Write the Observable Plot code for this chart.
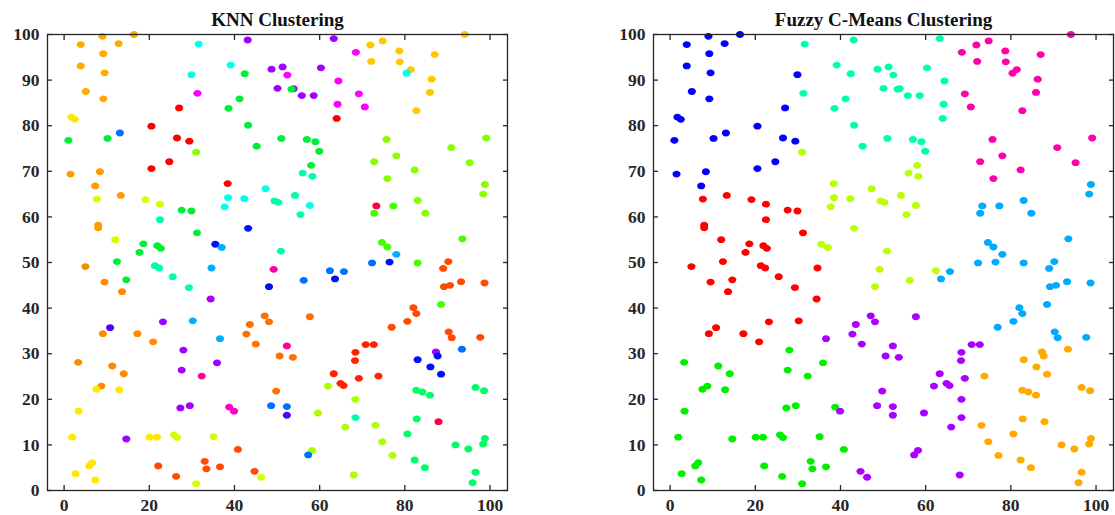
<!DOCTYPE html>
<html>
<head>
<meta charset="utf-8">
<script src="https://cdn.jsdelivr.net/npm/d3@7"></script>
<script src="https://cdn.jsdelivr.net/npm/@observablehq/plot@0.6"></script>
<style>
  html, body { margin: 0; padding: 0; background: #fff; }
  #wrap { position: relative; width: 1115px; height: 515px; overflow: hidden; }
  #wrap svg { position: absolute; top: 0; }
</style>
</head>
<body>
<div id="wrap"></div>
<script>
// ---- data ----
const titles = ["KNN Clustering", "Fuzzy C-Means Clustering"];
const xTicks = [0, 20, 40, 60, 80, 100];
const yTicks = [0, 10, 20, 30, 40, 50, 60, 70, 80, 90, 100];

const xs = [
  16.4, 3.9, 9.0, 12.8, 9.2, 3.9, 9.5, 5.1, 9.2, 1.7, 2.5, 1.0, 10.2, 13.1, 20.5, 27.0, 26.5, 29.4, 24.7, 20.5,
  31.0, 31.3, 31.6, 29.9, 39.1, 42.4, 41.2, 38.6, 43.2, 45.2, 43.1, 48.7, 1.5, 8.4, 7.3, 7.7, 13.3, 19.1, 22.5, 8.0,
  8.0, 27.6, 29.9, 38.4, 38.5, 37.7, 42.3, 47.3, 22.5, 31.2, 43.2, 35.5, 37.0, 12.0, 18.6, 17.7, 21.9, 22.7, 12.4,
  5.0, 21.3, 22.3, 25.5, 29.3, 34.6, 14.6, 9.5, 13.6, 48.1, 34.4, 10.8, 9.1, 17.2, 20.9, 23.2, 30.2, 36.6, 28.0, 27.6,
  35.9, 32.3, 3.3, 11.3, 14.0, 8.75, 7.6, 12.9, 3.4, 27.3, 29.5, 38.75, 39.9, 47.1, 48.1, 43.6, 42.8, 45.0, 48.6,
  1.9, 2.7, 5.9, 6.6, 7.3, 14.6, 20.1, 21.8, 25.8, 26.5, 35.1, 40.8, 22.1, 33.0, 33.4, 36.6, 26.3, 31.0, 44.7, 46.25,
  63.3, 68.5, 71.9, 74.8, 78.7, 72.1, 78.8, 81.4, 80.4, 87.0, 86.3, 85.9, 82.7, 94.1, 51.3, 52.4, 60.3, 50.1, 53.9,
  53.4, 55.8, 58.6, 64.4, 69.2, 64.2, 70.6, 64.0, 51.0, 57.0, 59.0, 59.9, 58.0, 56.0, 58.3, 49.4, 50.3, 54.2, 57.7,
  55.5, 50.9, 75.7, 78.0, 72.8, 82.3, 75.9, 90.9, 99.1, 95.2, 98.8, 98.4, 83.0, 77.3, 73.3, 72.8, 84.8, 74.6, 75.9,
  78.0, 93.5, 76.4, 72.3, 83.0, 90.2,
  49.2, 62.4, 65.7, 63.6, 56.25, 89.0, 89.2, 90.6, 93.2, 98.7, 88.5, 82.0, 82.7, 80.6, 76.9, 57.7, 90.3, 91.0, 97.7,
  52.3, 50.6, 53.7, 70.8, 72.7, 68.4, 68.3, 87.3, 87.7, 93.4, 83.0, 86.0, 88.5, 63.3, 69.2, 73.8, 64.9, 65.6, 61.95,
  49.8, 68.4, 68.4, 52.3, 52.3, 59.6, 66.0, 73.1, 74.7, 77.1, 58.2, 57.3, 68.0, 82.7, 84.1, 85.9, 82.8, 87.9, 80.6,
  96.6, 98.6, 91.9, 94.9, 98.8, 98.4, 82.3, 84.7, 96.6, 95.9
];
const ys = [
  100, 97.8, 99.6, 98.0, 95.8, 93.1, 91.6, 87.5, 85.9, 81.9, 81.4, 76.8, 77.2, 78.4, 79.9, 83.9, 77.3, 76.6, 72.1, 70.6,
  74.2, 87.1, 97.9, 91.2, 93.3, 91.4, 85.9, 83.8, 80.1, 75.5, 98.8, 92.4, 69.4, 69.9, 66.8, 63.9, 64.7, 63.8, 62.8, 58.2,
  57.6, 61.5, 61.3, 67.3, 64.2, 62.2, 64.0, 66.2, 59.4, 56.5, 57.5, 54.0, 53.3, 55.0, 54.1, 52.2, 53.7, 53.1, 50.2,
  49.1, 49.3, 48.8, 46.9, 44.5, 48.8, 46.2, 45.7, 43.6, 44.7, 42.0, 35.7, 34.4, 34.4, 32.6, 37.0, 37.2, 33.3, 30.8, 26.4,
  28.0, 25.1, 28.1, 27.3, 25.6, 22.9, 22.2, 22.1, 17.4, 18.1, 18.6, 18.3, 17.4, 38.3, 37.0, 36.4, 34.3, 32.1, 18.6,
  11.7, 3.7, 5.4, 6.1, 2.3, 11.3, 11.7, 11.7, 12.2, 11.6, 11.8, 9.0, 5.4, 6.4, 4.75, 5.2, 3.1, 1.5, 4.2, 2.9,
  99.1, 96.1, 97.7, 98.6, 96.4, 94.1, 94.0, 92.3, 91.5, 95.6, 90.2, 87.3, 83.3, 100, 92.9, 91.1, 92.7, 88.2, 88.1,
  88.0, 86.6, 86.6, 89.8, 87.0, 84.7, 84.1, 81.6, 77.2, 77.0, 76.5, 74.4, 71.3, 69.6, 68.9, 63.5, 63.2, 64.7, 62.5,
  60.5, 52.5, 77.0, 73.4, 72.1, 70.3, 68.4, 75.2, 77.3, 71.9, 67.1, 65.0, 63.6, 62.4, 62.4, 60.8, 60.8, 54.4, 53.4,
  51.8, 55.2, 50.1, 49.9, 49.9, 50.2,
  48.5, 48.2, 48.0, 46.4, 46.1, 48.7, 44.7, 45.0, 45.8, 45.5, 40.8, 40.1, 38.8, 37.1, 35.8, 38.1, 34.8, 33.5, 33.6,
  31.7, 29.5, 29.2, 32.0, 32.0, 30.3, 28.5, 30.4, 29.5, 31.0, 28.7, 27.1, 25.5, 25.6, 24.6, 25.1, 23.5, 23.0, 22.9,
  21.8, 20.0, 16.0, 18.4, 16.5, 17.0, 13.9, 14.3, 10.7, 7.7, 8.8, 7.8, 3.4, 22.0, 21.6, 20.9, 15.7, 15.1, 12.4,
  22.6, 21.9, 10.0, 9.1, 11.4, 10.2, 6.7, 5.0, 4.0, 1.7
];
const knnLabels = [
  "G1","G1","G1","G1","G1","G1","G1","G1","G1","Y","Y","G","G","AZ","R","R","R","R","R","R",
  "L","M","C","C","C","G","G","G","G","G","V","V","O3","O3","O3","YL","O3","YL","YL","O3",
  "O3","G","G","R","C","C","C","C","T","G","B","B","SB","YL","G","G","G","G","G",
  "O2","T","T","T","T","SB","G","O2","O2","B","V","VB","O2","O2","O2","V","SB","SB","V","V",
  "V","P","O2","O2","O2","O2","Y","Y","Y","V","V","MP","MP","O1","O1","O1","O1","O1","AZ",
  "Y","Y","Y","Y","Y","V","Y","Y","YL","YL","YL","OR","OR","OR","OR","OR","OR","YL","OR","YL",
  "V","M","G2","G2","G2","G2","G2","G2","C","G2","G2","G2","G2","G2","V","M","V","V","V",
  "G","V","V","M","M","M","M","R","G","G","G","G","G","T","T","T","T","T","C",
  "T","T","L","L","L","L","L","L","L","L","L","L","L","LG","RP","LG","L","LG","LG",
  "SB","LG","B","AZ","LG","OR",
  "P","AZ","AZ","B","AZ","OR","OR","OR","OR","OR","LG","OR","OR","OR","OR","O1","OR","OR","OR",
  "P","O1","O1","R2","R2","R2","R2","V","B","AZ","B","B","B","R2","R2","R2","R2","R2","L2",
  "O1","L2","T","AZ","VB","L2","L2","L2","L2","L2","L2","AZ","L2","SG","SG","SG","SG","RP","SG",
  "SG","SG","SG","SG","SG","SG","SG","SG","SG","SG"
];
const fcmLabels = [
  "B","B","B","B","B","B","B","B","B","B","B","B","B","B","B","B","B","B","B","B",
  "YG","T","T","B","T","T","T","T","T","T","T","T","B","B","B","R","R","R","R","R",
  "R","R","R","YG","YG","YG","YG","YG","R","R","YG","YG","YG","R","R","R","R","R","R",
  "R","R","R","R","R","R","R","R","R","YG","R","R","R","R","R","R","R","V","G","G",
  "G","G","G","G","G","G","G","G","G","G","G","G","V","V","V","V","V","V","V",
  "G","G","G","G","G","G","G","G","G","G","G","G","G","G","G","G","G","G","V","V",
  "T","MG","MG","MG","MG","MG","MG","MG","MG","MG","MG","MG","MG","MG","T","T","T","T","T",
  "T","T","T","T","MG","T","MG","T","T","T","T","T","YG","YG","YG","YG","YG","YG","YG",
  "YG","YG","MG","MG","MG","MG","MG","MG","MG","MG","SB","SB","SB","SB","SB","SB","SB","SB","SB",
  "SB","SB","SB","SB","SB","SB",
  "YG","YG","SB","SB","YG","SB","SB","SB","SB","SB","SB","SB","SB","SB","SB","V","SB","SB","SB",
  "V","V","V","V","V","V","V","O","O","O","O","O","O","V","V","O","V","V","V",
  "V","V","V","V","V","V","V","O","O","O","V","V","V","O","O","O","O","O","O",
  "O","O","O","O","O","O","O","O","O","O"
];

// ---- styles ----
const knnPalette = {
  R: "#ff0000", R2: "#ff2200", RP: "#ff0040", OR: "#ff4a00", O1: "#ff7000", O2: "#ff8a00",
  O3: "#ff9a00", G1: "#ffaa00", G2: "#ffc800", Y: "#ffe800", YL: "#d4ff00", L2: "#aaff00",
  L: "#88ff00", LG: "#44ff00", G: "#00ee33", SG: "#00ff66", T: "#00ffaa", C: "#00ffee",
  SB: "#00b0ff", AZ: "#0070ff", B: "#0010ff", VB: "#5000ff", V: "#a000ff", M: "#ff00ff",
  MP: "#ff00cc", P: "#ff0099"
};
const fcmPalette = {
  R: "#ff0000", O: "#ffaa00", YG: "#bbff00", G: "#00f000", T: "#00ffaa",
  SB: "#00aaff", B: "#0000ff", V: "#aa00ff", MG: "#ff00aa"
};

const ink = "#262626";
const serif = "Liberation Serif";
const ellipse = {
  draw(ctx, size) {
    const r = Math.sqrt(size / Math.PI);
    const rx = r * 1.1, ry = r * 0.92, k = 0.5523;
    ctx.moveTo(rx, 0);
    ctx.bezierCurveTo(rx, k * ry, k * rx, ry, 0, ry);
    ctx.bezierCurveTo(-k * rx, ry, -rx, k * ry, -rx, 0);
    ctx.bezierCurveTo(-rx, -k * ry, -k * rx, -ry, 0, -ry);
    ctx.bezierCurveTo(k * rx, -ry, rx, -k * ry, rx, 0);
    ctx.closePath();
  }
};

const idx = d3.range(xs.length);
const labelFont = {fontFamily: serif, fontSize: 17.5, fontWeight: "bold", fill: ink, tickSize: 0, label: null};
const tickStyle = {tickSize: -5, tickFormat: () => "", label: null, stroke: ink, strokeWidth: 1.3};

function panel(title, labels, palette) {
  return Plot.plot({
    width: 509,
    height: 515,
    marginLeft: 47,
    marginRight: 2,
    marginTop: 34,
    marginBottom: 25,
    x: {domain: [-3.9, 104.1]},
    y: {domain: [0, 100]},
    color: {type: "identity"},
    style: {
      color: ink,
      background: "transparent",
      fontFamily: serif,
      fontWeight: "bold",
      fontSize: "17.5px"
    },
    marks: [
      Plot.dot(idx, {
        x: i => xs[i], y: i => ys[i],
        fill: i => palette[labels[i]],
        symbol: ellipse, r: 3.7, stroke: "none"
      }),
      Plot.frame({stroke: ink, strokeWidth: 1.3}),
      Plot.axisX(xTicks, {anchor: "bottom", ...tickStyle}),
      Plot.axisX(xTicks, {anchor: "top", ...tickStyle}),
      Plot.axisY(yTicks, {anchor: "left", ...tickStyle}),
      Plot.axisY(yTicks, {anchor: "right", ...tickStyle}),
      Plot.axisX(xTicks, {anchor: "bottom", tickPadding: 8, ...labelFont}),
      Plot.axisY(yTicks, {anchor: "left", tickPadding: 8, ...labelFont}),
      Plot.text([title], {
        frameAnchor: "top", dy: -9, lineAnchor: "bottom",
        fontFamily: serif, fontSize: 19, fontWeight: "bold", fill: "#111"
      })
    ]
  });
}

const wrap = document.getElementById("wrap");
const a = panel(titles[0], knnLabels, knnPalette);
a.style.left = "0px";
const b = panel(titles[1], fcmLabels, fcmPalette);
b.style.left = "606px";
wrap.appendChild(a);
wrap.appendChild(b);
</script>
</body>
</html>
